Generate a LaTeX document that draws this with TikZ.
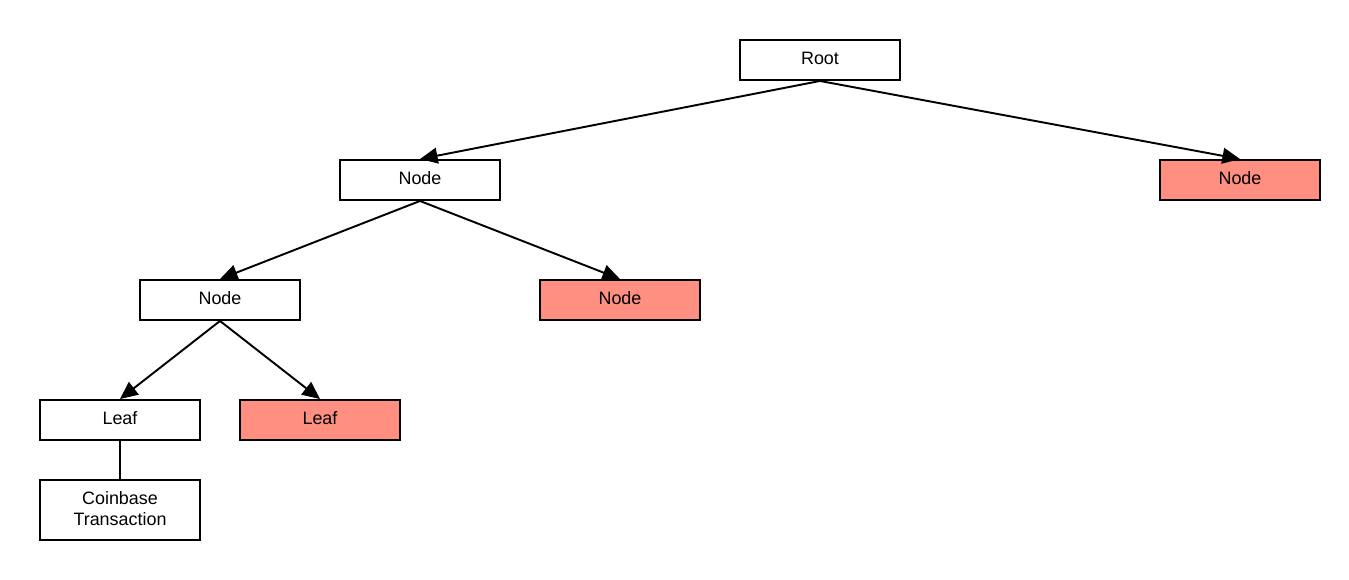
\documentclass[tikz,border=0pt]{standalone}
\usepackage{fontspec}
\setmainfont{Liberation Sans}
\usepackage{tikz}
\usetikzlibrary{arrows.meta}
\definecolor{spent}{HTML}{FF8F80}
\tikzstyle{block} = [rectangle, draw, line width=1.1pt, fill=white, minimum width=3.2cm, minimum height=0.8cm, text centered, font=\fontsize{10.2}{12}\selectfont, text height=1.6ex, text depth=0.65ex]
\tikzstyle{pruned} = [block, fill=spent]
\tikzstyle{line} = [draw, line width=1.1pt, -{Triangle[length=10pt,width=9pt]}]

\begin{document}
\begin{tikzpicture}
\useasboundingbox (0,0) rectangle (26.98,-11.6);
\node [block] (root) at (16.4,-1.2) {Root};
\node [block] (node-l) at (8.4,-3.6) {Node};
\node [pruned] (node-r) at (24.8,-3.6) {Node};
\path [line] (root.south) -- (node-l.north);
\path [line] (root.south) -- (node-r.north);
\node [block] (node-ll) at (4.4,-6) {Node};
\node [pruned] (node-lr) at (12.4,-6) {Node};
\path [line] (node-l.south) -- (node-ll.north);
\path [line] (node-l.south) -- (node-lr.north);
\node [block] (leaf-l) at (2.4,-8.4) {Leaf};
\node [pruned] (leaf-r) at (6.4,-8.4) {Leaf};
\path [line] (node-ll.south) -- (leaf-l.north);
\path [line] (node-ll.south) -- (leaf-r.north);
\node [block, minimum height=1.2cm, align=center, text height=, text depth=2.2pt] (coinbase) at (2.4,-10.2) {Coinbase\\Transaction};
\draw [line width=1.1pt] (leaf-l) -- (coinbase);
\end{tikzpicture}
\end{document}
